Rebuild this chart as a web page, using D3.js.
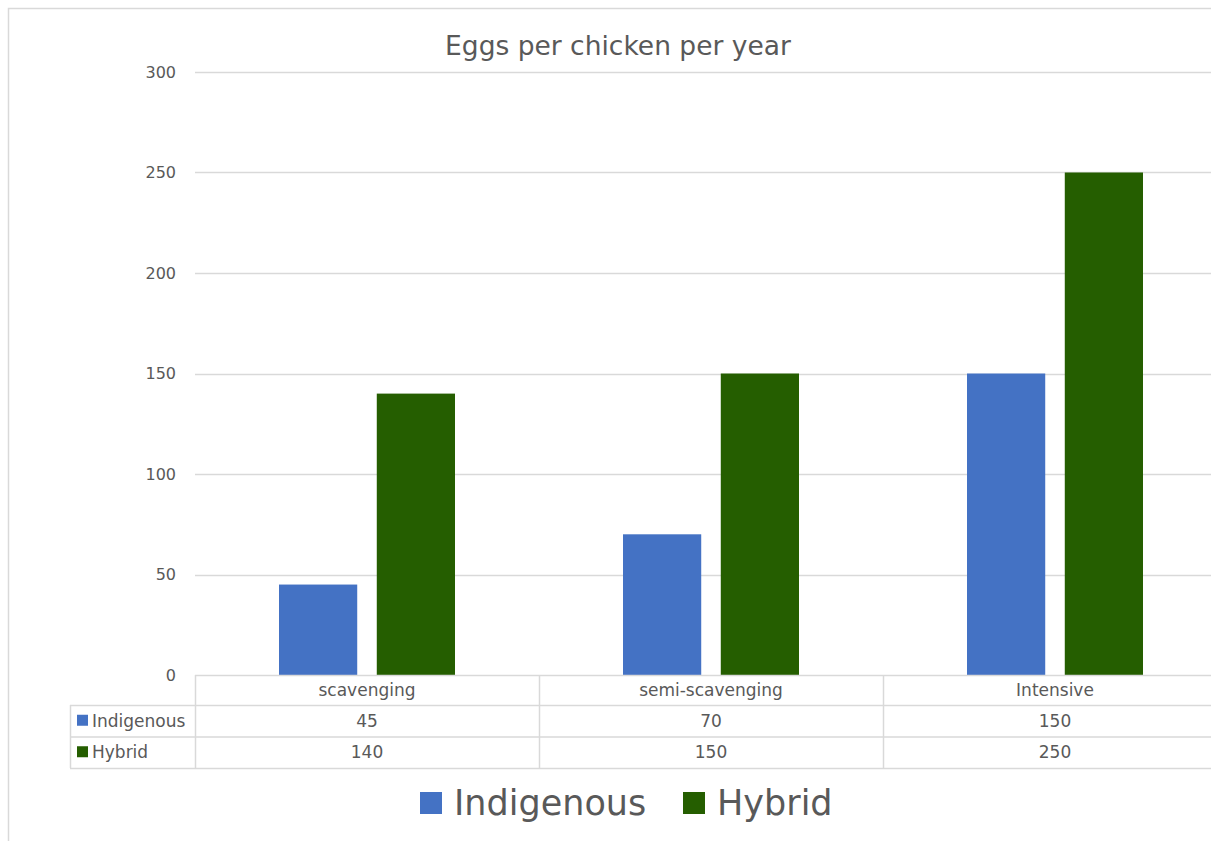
<!DOCTYPE html>
<html>
<head>
<meta charset="utf-8">
<script src="https://cdn.jsdelivr.net/npm/d3@7"></script>
<style>
  body { margin: 0; background: #fff; }
  text { font-family: "DejaVu Sans", Verdana, sans-serif; fill: #595959; }
</style>
</head>
<body>
<div id="vis"></div>
<script>
// data
const categories = ["scavenging", "semi-scavenging", "Intensive"];
const seriesNames = ["Indigenous", "Hybrid"];
const indigenous = [45, 70, 150];
const hybrid = [140, 150, 250];
const yTicks = [0, 50, 100, 150, 200, 250, 300];

const colors = ["#4472c4", "#255e00"];
const values = [indigenous, hybrid];

const W = 1211, H = 841;
const plot = { left: 195, right: 1227, top: 72, bottom: 675 };
const rowH = 31.5;

let svg = d3.select('#vis')
  .append('svg')
  .attr('width', W)
  .attr('height', H);

// outer border
svg.append("rect")
  .attr("x", 8.5).attr("y", 8.5)
  .attr("width", W + 20).attr("height", H + 20)
  .attr("fill", "none").attr("stroke", "#d9d9d9").attr("stroke-width", 1.5);

// title
svg.append("text")
  .attr("x", 618).attr("y", 55)
  .attr("text-anchor", "middle")
  .attr("font-size", 26.5)
  .text("Eggs per chicken per year");

// scales
const y = d3.scaleLinear().domain([0, 300]).range([plot.bottom, plot.top]);
const x0 = d3.scaleBand().domain(categories).range([plot.left, plot.right]);
const x1 = d3.scaleBand().domain(seriesNames).range([84, 260]).paddingInner(0.2);

// gridlines
svg.append("g")
  .selectAll("line")
  .data(yTicks.slice(1))
  .join("line")
  .attr("x1", plot.left).attr("x2", W)
  .attr("y1", d => Math.round(y(d)) + 0.5).attr("y2", d => Math.round(y(d)) + 0.5)
  .attr("stroke", "#d9d9d9").attr("stroke-width", 1.5);

// y axis labels
svg.append("g")
  .selectAll("text")
  .data(yTicks)
  .join("text")
  .attr("x", 176)
  .attr("y", d => y(d))
  .attr("dy", "0.35em")
  .attr("text-anchor", "end")
  .attr("font-size", 16)
  .text(d => d);

// bars
svg.append("g")
  .selectAll("g")
  .data(categories)
  .join("g")
  .attr("transform", d => `translate(${x0(d)},0)`)
  .selectAll("rect")
  .data((d, i) => seriesNames.map((key, k) => ({ key, value: values[k][i], color: colors[k] })))
  .join("rect")
  .attr("x", d => x1(d.key))
  .attr("y", d => y(d.value))
  .attr("width", x1.bandwidth())
  .attr("height", d => y(0) - y(d.value))
  .attr("fill", d => d.color);

// data table
const tbl = svg.append("g");
const lineColor = "#d9d9d9";
const tableTop = plot.bottom;
const rowsY = [tableTop, tableTop + 30, tableTop + 30 + rowH, tableTop + 30 + 2 * rowH];

// horizontal lines
tbl.append("line").attr("x1", plot.left).attr("x2", W).attr("y1", rowsY[0] + 0.5).attr("y2", rowsY[0] + 0.5)
  .attr("stroke", lineColor).attr("stroke-width", 1.5);
[1, 2, 3].forEach(r => {
  tbl.append("line").attr("x1", 70).attr("x2", W).attr("y1", rowsY[r] + 0.5).attr("y2", rowsY[r] + 0.5)
    .attr("stroke", lineColor).attr("stroke-width", 1.5);
});
// vertical lines
tbl.append("line").attr("x1", 70.5).attr("x2", 70.5).attr("y1", rowsY[1]).attr("y2", rowsY[3])
  .attr("stroke", lineColor).attr("stroke-width", 1.5);
categories.forEach(c => {
  tbl.append("line").attr("x1", x0(c) + 0.5).attr("x2", x0(c) + 0.5).attr("y1", rowsY[0]).attr("y2", rowsY[3])
    .attr("stroke", lineColor).attr("stroke-width", 1.5);
});

// header row
tbl.selectAll("text.cat")
  .data(categories)
  .join("text")
  .attr("class", "cat")
  .attr("x", d => x0(d) + x0.bandwidth() / 2)
  .attr("y", (rowsY[0] + rowsY[1]) / 2)
  .attr("dy", "0.35em")
  .attr("text-anchor", "middle")
  .attr("font-size", 17)
  .text(d => d);

// series rows
seriesNames.forEach((s, k) => {
  const cy = (rowsY[k + 1] + rowsY[k + 2]) / 2;
  tbl.append("rect").attr("x", 77).attr("y", cy - 6).attr("width", 11).attr("height", 11).attr("fill", colors[k]);
  tbl.append("text").attr("x", 92).attr("y", cy).attr("dy", "0.35em").attr("font-size", 17).text(s);
  categories.forEach((c, i) => {
    tbl.append("text")
      .attr("x", x0(c) + x0.bandwidth() / 2)
      .attr("y", cy)
      .attr("dy", "0.35em")
      .attr("text-anchor", "middle")
      .attr("font-size", 17)
      .text(values[k][i]);
  });
});

// legend
const legendItems = [{ name: "Indigenous", x: 420 }, { name: "Hybrid", x: 683 }];
const lg = svg.append("g");
legendItems.forEach((d, k) => {
  lg.append("rect").attr("x", d.x).attr("y", 792).attr("width", 22).attr("height", 22).attr("fill", colors[k]);
  lg.append("text").attr("x", d.x + 34).attr("y", 803).attr("dy", "0.35em").attr("font-size", 35).text(d.name);
});
</script>
</body>
</html>
